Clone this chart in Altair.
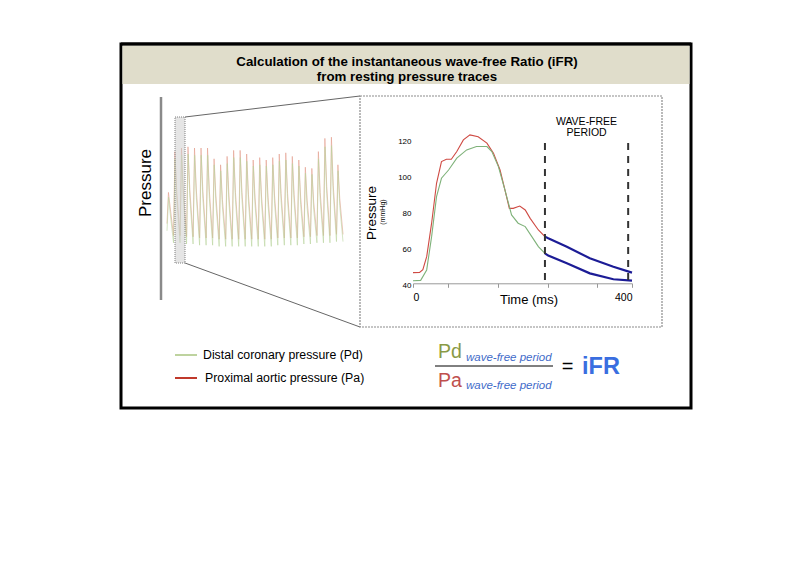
import altair as alt
import pandas as pd

# ---------------- data ----------------
# Inset: one heartbeat (time in ms, pressure in mmHg)
pa_time = [0, 12, 18, 25, 34, 43, 52, 61, 70, 80, 92, 104, 119, 135, 147, 159, 168, 176, 183, 195, 205, 214, 229, 241]
pa_pressure = [46.9, 47, 48.5, 55.8, 74.5, 96.8, 108.9, 110.2, 110.2, 114.5, 121, 123.8, 122.8, 119.2, 113.6,
               104.2, 93, 82.8, 82.8, 84.1, 81.9, 77.2, 70.7, 67]
pd_time = [0, 14, 25, 34, 43, 52, 65, 80, 98, 116, 135, 144, 156, 168, 180, 192, 205, 217, 229, 241]
pd_pressure = [42.4, 42.6, 48.4, 67, 89.3, 99.6, 104.2, 110.8, 115.4, 117.3, 117.3, 114.5, 106.1, 93, 79.1,
               74.5, 72.6, 67, 61.4, 57.7]
wf_time = [241, 247, 281, 323, 366, 400]
wf_pa = [67, 66.1, 61.4, 54.9, 50.2, 46.9]
wf_pd = [57.7, 56.4, 52.1, 46.5, 43.2, 42.4]
wf_bounds = [241, 393]
x_ticks = [0, 64, 155, 247, 336, 400]
y_ticks = [40, 60, 80, 100, 120]

# Overview trace: per-beat values (mmHg)
pa_peak = [88, 122, 125, 126, 125, 125, 125, 116, 111, 118, 123, 123, 120, 115, 117, 115, 117, 120, 121, 118,
           115, 109, 108, 122, 133, 134, 111]
pa_notch = [75, 88, 90, 90, 90, 89, 89, 85, 82, 85, 88, 88, 86, 84, 85, 84, 85, 87, 87, 86, 84, 81, 80, 88,
            93, 94, 83]
pa_trough = [62, 52, 52, 51, 51, 50, 50, 50, 49, 49, 49, 49, 49, 49, 49, 49, 49, 50, 50, 50, 50, 51, 51, 52,
             52, 52, 53]
pd_peak = [84, 116, 119, 120, 119, 119, 119, 111, 106, 112, 117, 117, 114, 110, 111, 110, 111, 114, 115, 112,
           110, 104, 103, 116, 126, 127, 106]
pd_notch = [70, 82, 84, 84, 84, 83, 83, 79, 76, 79, 82, 82, 80, 78, 79, 78, 79, 81, 81, 80, 78, 75, 74, 82,
            87, 88, 77]
pd_trough = [56, 46, 46, 45, 45, 44, 44, 44, 43, 43, 43, 43, 43, 43, 43, 43, 43, 44, 44, 44, 44, 45, 45, 46,
             46, 46, 47]

title_lines = ["Calculation of the instantaneous wave-free Ratio (iFR)", "from resting pressure traces"]
legend_labels = ["Distal coronary pressure (Pd)", "Proximal aortic pressure (Pa)"]

FONT = "Liberation Sans"
GREEN = "#7fb27a"
RED = "#cf4a43"
NAVY = "#1c1c96"

W, H = 784, 550

# ---------------- page (pixel) scales for decoration ----------------
PX = alt.Scale(domain=[8, 8 + W], range=[0, W], nice=False)
PY = alt.Scale(domain=[8, 8 + H], range=[0, H], nice=False)


def rect(x1, y1, x2, y2, **mk):
    df = pd.DataFrame({"x": [x1], "y": [y1], "x2": [x2], "y2": [y2]})
    return alt.Chart(df).mark_rect(**mk).encode(
        x=alt.X("x:Q", scale=PX, axis=None), x2="x2:Q",
        y=alt.Y("y:Q", scale=PY, axis=None), y2="y2:Q")


def seg(x1, y1, x2, y2, **mk):
    df = pd.DataFrame({"x": [x1], "y": [y1], "x2": [x2], "y2": [y2]})
    return alt.Chart(df).mark_rule(**mk).encode(
        x=alt.X("x:Q", scale=PX, axis=None), x2="x2:Q",
        y=alt.Y("y:Q", scale=PY, axis=None), y2="y2:Q")


def text(x, y, s, **mk):
    mk.setdefault("font", FONT)
    mk.setdefault("baseline", "middle")
    df = pd.DataFrame({"x": [x], "y": [y], "t": [s]})
    return alt.Chart(df).mark_text(**mk).encode(
        x=alt.X("x:Q", scale=PX, axis=None),
        y=alt.Y("y:Q", scale=PY, axis=None),
        text="t:N")


layers = []
# outer frame + header
layers.append(rect(121, 44, 691, 408, fill="white", stroke="black", strokeWidth=3))
layers.append(rect(122.5, 45.5, 689.5, 84, fill="#e0ddcb"))
layers.append(seg(121, 44, 691, 44, stroke="black", strokeWidth=3))
layers.append(text(407, 62, title_lines[0], fontSize=13.3, fontWeight="bold"))
layers.append(text(407, 76.5, title_lines[1], fontSize=13.3, fontWeight="bold"))

# left axis bar + label
layers.append(seg(161, 97, 161, 300, stroke="#8a8a8a", strokeWidth=2.5))
layers.append(text(146, 183, "Pressure", fontSize=17, angle=270))

# overview trace
ov_rows = []
for k in range(len(pa_peak)):
    ov_rows += [(k, pa_trough[k], "Pa"), (k + 0.22, pa_peak[k], "Pa"), (k + 0.5, pa_notch[k], "Pa")]
    ov_rows += [(k, pd_trough[k], "Pd"), (k + 0.24, pd_peak[k], "Pd"), (k + 0.5, pd_notch[k], "Pd")]
ov_rows += [(len(pa_peak), pa_trough[-1], "Pa"), (len(pd_peak), pd_trough[-1], "Pd")]
ov = pd.DataFrame(ov_rows, columns=["beat", "p", "s"])
layers.append(alt.Chart(ov).mark_line(strokeWidth=0.8, opacity=0.75).encode(
    x=alt.X("beat:Q", scale=alt.Scale(domain=[0, 27], range=[159, 335], nice=False), axis=None),
    y=alt.Y("p:Q", scale=alt.Scale(domain=[40, 140], range=[242, 122], nice=False), axis=None),
    color=alt.Color("s:N", scale=alt.Scale(domain=["Pd", "Pa"], range=["#b9d39c", "#e39a8a"]), legend=None),
    detail="s:N"))

# selection box + zoom lines
layers.append(rect(175, 117, 185, 263, fill="#d0d0d0", fillOpacity=0.55, stroke="#808080",
                   strokeWidth=1, strokeDash=[1, 1]))
layers.append(seg(185, 117, 360, 96, stroke="#666", strokeWidth=1))
layers.append(seg(185, 263, 360, 327, stroke="#666", strokeWidth=1))

# inset box
layers.append(rect(360, 96, 662, 327, fill="white", stroke="#8c8c8c", strokeWidth=1.2, strokeDash=[2, 1]))

# inset chart (own scales)
TX = alt.Scale(domain=[0, 400], range=[405, 624], nice=False)
TY = alt.Scale(domain=[40, 120], range=[277, 133.7], nice=False)

pa_df = pd.DataFrame({"t": pa_time, "p": pa_pressure})
pd_df = pd.DataFrame({"t": pd_time, "p": pd_pressure})
wf_df = pd.DataFrame({"t": wf_time + wf_time, "p": wf_pa + wf_pd, "s": ["Pa"] * len(wf_time) + ["Pd"] * len(wf_time)})

layers.append(alt.Chart(pa_df).mark_line(color=RED, strokeWidth=1.1).encode(
    x=alt.X("t:Q", scale=TX, axis=alt.Axis(
        orient="bottom", offset=275.3 - H, values=x_ticks, zindex=1,
        labelExpr="datum.value == 0 || datum.value == 400 ? datum.label : ''",
        tickSize=4, labelFontSize=10.5, labelPadding=5, labelFont=FONT, labelColor="black",
        labelOverlap=False, domainColor="#999", tickColor="#999", grid=False, title=None)),
    y=alt.Y("p:Q", scale=TY, axis=alt.Axis(
        orient="left", offset=-405, values=y_ticks, domain=False, ticks=False, zindex=1,
        labelPadding=2, labelFontSize=8, labelFont=FONT, labelColor="black", grid=False, title=None))))
layers.append(alt.Chart(pd_df).mark_line(color=GREEN, strokeWidth=1.1).encode(
    x=alt.X("t:Q", scale=TX, axis=None), y=alt.Y("p:Q", scale=TY, axis=None)))
layers.append(alt.Chart(wf_df).mark_line(color=NAVY, strokeWidth=2.2).encode(
    x=alt.X("t:Q", scale=TX, axis=None), y=alt.Y("p:Q", scale=TY, axis=None), detail="s:N"))
bnd = pd.DataFrame({"t": wf_bounds, "top": [119.3, 119.3], "bot": [41, 41]})
layers.append(alt.Chart(bnd).mark_rule(color="#333", strokeWidth=2, strokeDash=[7, 6]).encode(
    x=alt.X("t:Q", scale=TX, axis=None), y=alt.Y("top:Q", scale=TY, axis=None), y2="bot:Q"))

layers.append(text(372, 213, "Pressure", fontSize=13.5, angle=270))
layers.append(text(383, 212, "(mmHg)", fontSize=7, angle=270))
layers.append(text(529, 300, "Time (ms)", fontSize=13))
layers.append(text(586.5, 121.7, "WAVE-FREE", fontSize=10.5))
layers.append(text(586.5, 133.3, "PERIOD", fontSize=10.5))

# legend
layers.append(seg(175, 355, 197, 355, stroke="#a9c47f", strokeWidth=1.5))
layers.append(seg(175, 378, 197, 378, stroke="#c0392b", strokeWidth=2))
layers.append(text(203, 355, legend_labels[0], fontSize=12.3, align="left"))
layers.append(text(205, 378, legend_labels[1], fontSize=12.3, align="left"))

# formula
layers.append(text(438, 358, "Pd", fontSize=19.5, align="left", baseline="alphabetic", color="#8a9a45"))
layers.append(text(466, 361, "wave-free period", fontSize=11.5, align="left", baseline="alphabetic",
                   fontStyle="italic", color="#3f6bc9"))
layers.append(seg(435, 366, 553, 366, stroke="black", strokeWidth=1))
layers.append(text(438, 387, "Pa", fontSize=19.5, align="left", baseline="alphabetic", color="#c0504d"))
layers.append(text(466, 389, "wave-free period", fontSize=11.5, align="left", baseline="alphabetic",
                   fontStyle="italic", color="#3f6bc9"))
layers.append(text(567.5, 373, "=", fontSize=20, baseline="alphabetic"))
layers.append(text(582, 374, "iFR", fontSize=23.5, fontWeight="bold", align="left", baseline="alphabetic",
                   color="#3a6ee0"))

chart = alt.layer(*layers).resolve_scale(
    x="independent", y="independent", color="independent"
).properties(
    width=W, height=H, autosize=alt.AutoSizeParams(type="none"), padding=0, background="white"
).configure_view(strokeWidth=0)

chart.save("out.html", embed_options={"renderer": "svg", "actions": False})
